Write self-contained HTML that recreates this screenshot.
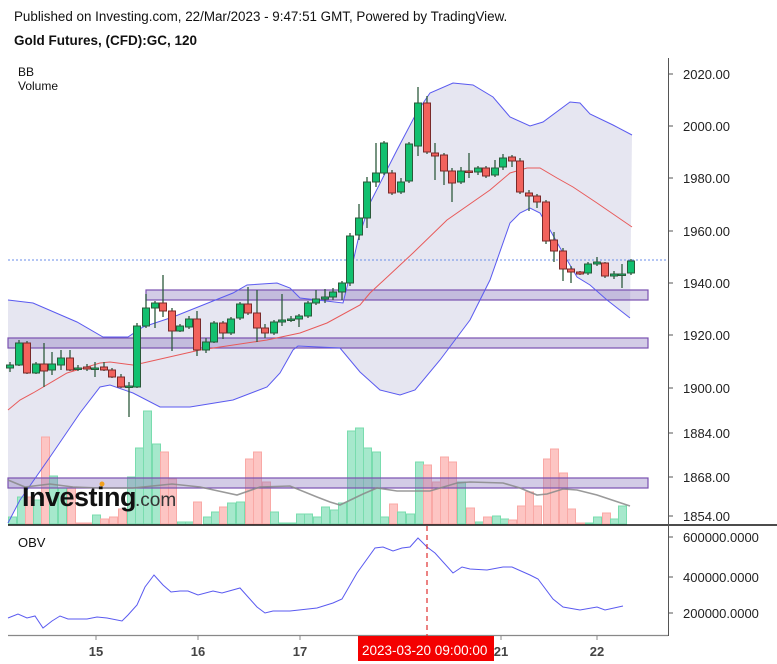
<!DOCTYPE html>
<html><head><meta charset="utf-8"><style>
body{margin:0;background:#fff;width:777px;height:664px;overflow:hidden;font-family:"Liberation Sans",sans-serif}
svg{position:absolute;left:0;top:0}
</style></head><body>
<svg id="s" width="777" height="664" xmlns="http://www.w3.org/2000/svg" font-family="Liberation Sans, sans-serif">
<text x="14" y="21" font-size="13.4" fill="#111">Published on Investing.com, 22/Mar/2023 - 9:47:51 GMT, Powered by TradingView.</text>
<text x="14" y="45" font-size="13.5" font-weight="bold" fill="#111">Gold Futures, (CFD):GC, 120</text>
</svg>
<script>
const s=document.getElementById('s');let h='';
const P=a=>a.map(p=>p.join(',')).join(' ');
const up=[[8,300],[33,303],[77,322],[103,337],[128,337],[143,327],[173,317],[233,293],[247,285],[277,283],[290,288],[300,298],[343,303],[350,275],[358,240],[370,203],[397,150],[417,112],[430,93],[453,83],[473,85],[493,97],[510,117],[530,126],[543,122],[570,102],[580,103],[590,114],[613,125],[632,135]];
const lo=[[8,523],[20,500],[50,457],[80,413],[100,387],[110,385],[133,393],[160,407],[190,407],[233,400],[267,387],[280,373],[293,350],[298,346],[340,348],[360,372],[380,390],[400,395],[415,390],[440,360],[470,320],[490,280],[510,223],[520,213],[530,208],[540,213],[550,230],[563,253],[577,277],[590,285],[607,300],[630,318]];
const mid=[[8,410],[20,400],[33,393],[67,373],[100,363],[110,362],[133,365],[143,363],[200,350],[267,340],[300,333],[327,323],[360,305],[370,293],[413,253],[447,220],[490,190],[510,173],[527,168],[540,168],[557,178],[573,187],[597,203],[632,227]];
h+=`<polygon points="${P(up)} ${P(lo.slice().reverse())}" fill="#e6e6f1"/>`;
h+=`<line x1="8" y1="260" x2="668" y2="260" stroke="#6a8ee8" stroke-dasharray="2,2"/>`;
const vb=[[8,517,'g'],[17,497,'g'],[25,497,'r'],[33,500,'g'],[41,437,'r'],[49,476,'g'],[58,488,'g'],[67,488,'r'],[76,523,'r'],[84,523,'r'],[92,515,'g'],[100,519,'r'],[109,517,'r'],[118,509,'r'],[127,477,'g'],[135,448,'g'],[143,411,'g'],[152,444,'g'],[160,452,'r'],[168,479,'r'],[177,522,'g'],[185,522,'g'],[193,502,'r'],[203,517,'g'],[211,512,'g'],[219,507,'r'],[227,503,'g'],[236,502,'g'],[245,459,'r'],[253,452,'r'],[262,482,'r'],[270,512,'g'],[279,523,'g'],[287,523,'g'],[296,514,'g'],[304,514,'g'],[313,517,'g'],[321,507,'g'],[330,510,'g'],[338,503,'g'],[347,431,'g'],[355,428,'g'],[363,448,'g'],[372,452,'g'],[380,517,'g'],[389,504,'r'],[397,512,'g'],[406,514,'g'],[415,462,'g'],[423,465,'r'],[432,482,'r'],[440,457,'r'],[448,462,'r'],[457,482,'g'],[466,508,'r'],[475,522,'g'],[483,517,'r'],[492,516,'g'],[500,519,'g'],[508,520,'r'],[517,506,'r'],[525,492,'r'],[533,506,'r'],[543,459,'r'],[550,449,'r'],[559,473,'r'],[567,509,'r'],[576,523,'r'],[585,523,'g'],[593,517,'g'],[602,513,'r'],[610,519,'g'],[618,506,'g']];
vb.forEach(b=>{h+=`<rect x="${b[0]+0.5}" y="${b[1]}" width="8" height="${524-b[1]}" fill="${b[2]=='g'?'#a6e8cc':'#fdc5c3'}" stroke="${b[2]=='g'?'#79dcae':'#f9a9a6'}" stroke-width="1"/>`});
[[146,290,300],[8,338,348],[8,478,488]].forEach(b=>{h+=`<rect x="${b[0]}" y="${b[1]}" width="${648-b[0]}" height="${b[2]-b[1]}" fill="rgba(140,120,190,0.38)" stroke="#7a52b0" stroke-width="1.2"/>`});
h+=`<polyline points="${P(up)}" fill="none" stroke="#5a5af0" stroke-width="1"/>`;
h+=`<polyline points="${P(lo)}" fill="none" stroke="#5a5af0" stroke-width="1"/>`;
h+=`<polyline points="${P(mid)}" fill="none" stroke="#e85a5a" stroke-width="1"/>`;
const ma=[[8,480],[25,487],[50,484],[73,487],[100,488],[133,488],[172,484],[200,487],[237,495],[260,487],[290,486],[317,497],[330,502],[340,505],[363,494],[377,488],[397,491],[430,491],[457,483],[470,482],[503,483],[520,488],[537,495],[547,494],[563,489],[577,490],[597,495],[630,506]];
h+=`<polyline points="${P(ma)}" fill="none" stroke="#888" stroke-width="1.6" opacity="0.85"/>`;
const c=[[10,365,368,362,372,1],[19,343,365,340,366,1],[27,343,373,341,374,0],[36,364,373,362,374,1],[44,364,371,343,387,0],[52,364,370,352,375,1],[61,358,365,350,370,1],[70,358,370,350,371,0],[78,368,369,365,371,1],[87,367,369,364,371,0],[95,368,369,362,377,1],[104,367,370,362,371,0],[112,370,377,368,378,0],[121,377,387,374,388,0],[129,386,387,382,417,1],[137,326,387,323,388,1],[146,308,326,294,328,1],[155,303,308,301,328,1],[163,303,311,275,317,0],[172,311,331,308,351,0],[180,326,331,324,332,1],[189,319,327,316,329,1],[197,319,350,311,356,0],[206,342,350,338,353,1],[214,323,342,321,343,1],[223,323,333,321,339,0],[231,319,333,317,335,1],[240,304,318,302,320,1],[248,304,313,287,315,0],[257,313,328,290,342,0],[265,328,333,324,338,0],[274,322,333,320,335,1],[282,320,322,294,326,1],[291,319,320,316,322,1],[299,316,319,314,327,1],[308,303,316,301,318,1],[316,299,303,290,305,1],[325,297,299,289,303,1],[333,292,297,288,300,1],[342,283,292,281,300,1],
[350,236,283,233,286,1],[359,218,235,204,240,1],[367,182,218,177,228,1],[376,173,182,143,187,1],[384,143,173,141,175,1],[392,173,193,170,195,0],[401,182,192,178,194,1],[409,144,181,142,183,1],[418,103,146,87,156,1],[427,103,152,96,154,0],[435,153,156,143,180,0],[444,155,171,153,185,0],[452,171,183,168,202,0],[461,171,182,167,184,1],[469,171,172,153,178,0],[478,168,172,166,175,1],[486,168,176,166,178,0],[495,168,175,160,177,1],[503,158,167,154,170,1],[512,157,161,155,167,0],[520,161,192,158,194,0],[529,193,196,190,211,0],[537,196,202,194,208,0],[546,202,241,200,244,0],[554,240,251,232,262,0],[563,251,269,248,281,0],[571,269,272,266,283,0],[580,272,274,271,275,0],[588,264,273,262,275,1],[597,262,264,257,266,1],[605,263,276,262,278,0],[614,274,276,271,279,1],[622,274,275,264,288,1],[631,261,273,259,275,1]];
c.forEach(k=>{const g=k[5];h+=`<line x1="${k[0]}" y1="${k[3]}" x2="${k[0]}" y2="${k[4]}" stroke="#2d5a3c" stroke-width="1.3"/>`;
h+=`<rect x="${k[0]-3.5}" y="${k[1]}" width="7" height="${Math.max(1.5,k[2]-k[1])}" fill="${g?'#12c06f':'#f2625c'}" stroke="${g?'#2a5a3a':'#7a2a2a'}" stroke-width="1"/>`});
h+=`<text x="22" y="506" font-size="27" font-weight="bold" fill="#111" letter-spacing="-0.5">Investing</text><text x="135" y="506" font-size="19" fill="#333">.com</text><circle cx="102" cy="484" r="2.5" fill="#f0a020"/>`;
h+=`<line x1="8" y1="525" x2="777" y2="525" stroke="#111" stroke-width="1.5"/>`;
h+=`<line x1="8" y1="635.5" x2="668" y2="635.5" stroke="#888" stroke-width="1.2"/>`;
h+=`<line x1="668.5" y1="58" x2="668.5" y2="636" stroke="#555" stroke-width="1"/>`;
[["2020.00",74],["2000.00",126],["1980.00",178],["1960.00",231],["1940.00",283],["1920.00",335],["1900.00",388],["1884.00",433],["1868.00",477],["1854.00",516],["600000.0000",537],["400000.0000",577],["200000.0000",613]].forEach(t=>{h+=`<line x1="668" y1="${t[1]}" x2="673" y2="${t[1]}" stroke="#555"/><text x="683" y="${t[1]+5}" font-size="13" fill="#222">${t[0]}</text>`});
h+=`<text x="18" y="76" font-size="12" fill="#111">BB</text><text x="18" y="90" font-size="12" fill="#111">Volume</text><text x="18" y="547" font-size="13" fill="#111">OBV</text>`;
const obv=[[8,618],[18,614],[27,618],[35,616],[43,628],[52,621],[60,616],[68,619],[87,619],[97,617],[107,618],[122,621],[128,615],[137,605],[145,587],[154,575],[163,585],[171,592],[180,591],[188,591],[198,595],[213,591],[222,593],[240,588],[257,607],[265,613],[273,611],[290,611],[317,608],[333,603],[342,599],[357,573],[375,548],[383,547],[393,551],[402,548],[410,547],[418,538],[427,547],[435,553],[453,573],[462,567],[470,569],[487,570],[503,567],[512,567],[530,575],[538,579],[553,599],[563,607],[580,610],[597,607],[605,610],[623,606]];
h+=`<polyline points="${P(obv)}" fill="none" stroke="#5a5af0" stroke-width="1"/>`;
h+=`<line x1="427" y1="526" x2="427" y2="636" stroke="#e03030" stroke-dasharray="5,4" stroke-width="1.2"/>`;
[[96,"15"],[198,"16"],[300,"17"],[597,"22"],[501,"21"]].forEach(t=>{h+=`<line x1="${t[0]}" y1="636" x2="${t[0]}" y2="640" stroke="#888"/><text x="${t[0]}" y="656" font-size="13" font-weight="bold" fill="#444" text-anchor="middle">${t[1]}</text>`});
h+=`<rect x="358" y="636" width="136" height="25" fill="#f40000"/><text x="362" y="655" font-size="13.5" fill="#fff">2023-03-20 09:00:00</text>`;
s.insertAdjacentHTML('beforeend',h);
</script>
</body></html>
